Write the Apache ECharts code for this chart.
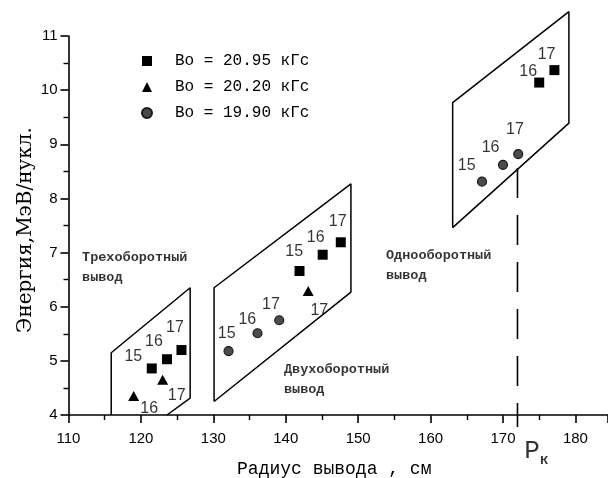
<!DOCTYPE html>
<html>
<head>
<meta charset="utf-8">
<script src="https://cdn.jsdelivr.net/npm/echarts@6/dist/echarts.min.js"></script>
<style>html,body{margin:0;padding:0;background:#fff}#c{width:608px;height:478px}</style>
</head>
<body>
<div id="c"></div>
<script>
// Series names
const seriesNames = ['Bo = 20.95 кГс', 'Bo = 20.20 кГс', 'Bo = 19.90 кГс'];
// Data points [radius cm, energy MeV/nucl]
const squares = [[121.5,4.86],[123.6,5.03],[125.6,5.20],[141.9,6.66],[145.1,6.96],[147.6,7.19],[175.0,10.14],[177.1,10.37]];
const triangles = [[119.0,4.35],[123.0,4.65],[143.1,6.29]];
const circles = [[132.1,5.18],[136.1,5.51],[139.1,5.75],[167.1,8.31],[170.0,8.62],[172.1,8.82]];
// Extraction regions (outlines)
const region3turn = [[115.9,4.0],[115.9,5.15],[126.8,6.35],[126.8,4.31],[123.6,4.0]];
const region2turn = [[130.1,4.25],[130.1,6.35],[149.0,8.27],[149.0,6.27],[130.1,4.25]];
const region1turn = [[163.05,7.46],[163.05,9.77],[179.1,11.45],[179.1,9.39],[163.05,7.46]];
// Critical radius line
const rkLine = [[172.0,8.56],[172.0,3.78]];
// Harmonic number labels [text, x, y]
const numLabels = [
  ['15',118.95,5.08],['16',121.8,5.36],['17',124.7,5.62],
  ['16',121.15,4.12],['17',124.94,4.36],
  ['15',141.17,7.02],['16',144.13,7.28],['17',147.17,7.57],
  ['17',144.63,5.93],
  ['15',131.84,5.50],['16',134.69,5.77],['17',137.96,6.03],
  ['16',173.48,10.34],['17',176.02,10.65],
  ['15',164.98,8.61],['16',168.29,8.93],['17',171.65,9.28]
];
// Region annotations [text, x, y] (top-left anchor)
const notes = [
  ['Трехоборотный\nвывод',111.87,7.085],
  ['Двухоборотный\nвывод',139.75,5.016],
  ['Однооборотный\nвывод',153.84,7.12]
];
const rkLabel = [174.6,3.33];
// Axis settings
const xMin = 110, xMax = 184.5, xStep = 10;
const yMin = 4, yMax = 11, yStep = 1;
const xTitle = 'Радиус вывода , см';
const yTitle = 'Энергия,МэВ/нукл.';

const chart = echarts.init(document.getElementById('c'), null, {renderer:'canvas'});
const mono = "'Liberation Mono','DejaVu Sans Mono',monospace";
const sans = "'Liberation Sans',Arial,sans-serif";
const serif = "'DejaVu Serif','Liberation Serif',serif";
const axisCommon = {
  axisLine:{show:true,onZero:false,lineStyle:{color:'#000',width:1.6}},
  axisTick:{show:true,inside:false,length:8,lineStyle:{color:'#000',width:1.6}},
  minorTick:{show:true,splitNumber:2,length:5,lineStyle:{color:'#000',width:1.4}},
  splitLine:{show:false},
  minorSplitLine:{show:false}
};
const outline = (d) => ({type:'line',data:d,symbol:'none',clip:false,silent:true,
  lineStyle:{color:'#000',width:1.5},z:2});

chart.setOption({
  animation:false,
  backgroundColor:'#fff',
  grid:{left:68.5,right:0,top:36,bottom:63,containLabel:false,outerBoundsMode:'none'},
  xAxis:Object.assign({type:'value',min:xMin,max:xMax,interval:xStep,
    name:xTitle,nameLocation:'middle',nameGap:45,
    nameTextStyle:{fontFamily:mono,fontSize:18,color:'#000',padding:[0,8,0,0]},
    axisLabel:{color:'#000',fontFamily:sans,fontSize:15,margin:16,showMaxLabel:false,
      formatter:(v)=> (v%10===0? String(v):'')}
  },axisCommon),
  yAxis:Object.assign({type:'value',min:yMin,max:yMax,interval:yStep,
    name:yTitle,nameLocation:'middle',nameGap:33,nameMoveOverlap:false,
    nameTextStyle:{fontFamily:serif,fontSize:20,color:'#000',padding:[0,9,0,0]},
    axisLabel:{color:'#000',fontFamily:sans,fontSize:15,margin:11}
  },axisCommon),
  legend:{
    data:seriesNames,orient:'vertical',left:136,top:48,itemWidth:10,itemHeight:10,itemGap:10,
    textStyle:{fontFamily:mono,fontSize:16,color:'#000',lineHeight:16,padding:[0,0,0,18]},
    selectedMode:false
  },
  series:[
    outline(region3turn),outline(region2turn),outline(region1turn),
    {type:'line',data:rkLine,symbol:'none',clip:false,silent:true,
      lineStyle:{color:'#000',width:1.6,type:[30,17]},z:2},
    {name:seriesNames[0],type:'scatter',data:squares,symbol:'rect',symbolSize:10,
      itemStyle:{color:'#000',opacity:1},z:5},
    {name:seriesNames[1],type:'scatter',data:triangles,symbol:'triangle',symbolSize:[11,10],
      itemStyle:{color:'#000',opacity:1},z:5},
    {name:seriesNames[2],type:'scatter',data:circles,symbol:'circle',symbolSize:9,
      itemStyle:{color:'#4a4a4a',borderColor:'#1a1a1a',borderWidth:1.2,opacity:1},z:5},
    {type:'scatter',silent:true,symbolSize:0,clip:false,z:6,
      data:numLabels.map(l=>({value:[l[1],l[2]],name:l[0]})),
      itemStyle:{color:'rgba(0,0,0,0)'},
      label:{show:true,position:'inside',formatter:p=>p.name,color:'#000',
        fontFamily:sans,fontSize:16}},
    {type:'scatter',silent:true,symbolSize:0,clip:false,z:6,
      data:notes.map(l=>({value:[l[1],l[2]],name:l[0]})),
      itemStyle:{color:'rgba(0,0,0,0)'},
      label:{show:true,position:[0,0],align:'left',verticalAlign:'top',formatter:p=>p.name,
        color:'#000',fontFamily:mono,fontWeight:'bold',fontSize:13.5,lineHeight:20}},
    {type:'scatter',silent:true,symbolSize:0,clip:false,z:6,
      data:[{value:rkLabel,name:'P'}],
      itemStyle:{color:'rgba(0,0,0,0)'},
      label:{show:true,position:'inside',formatter:'{p|P}{k|к}',
        rich:{p:{fontFamily:mono,fontSize:26,color:'#000',verticalAlign:'bottom'},
              k:{fontFamily:mono,fontSize:14,fontWeight:'bold',color:'#000',verticalAlign:'bottom',padding:[0,0,-3,0]}}}}
  ]
});
</script>
</body>
</html>
